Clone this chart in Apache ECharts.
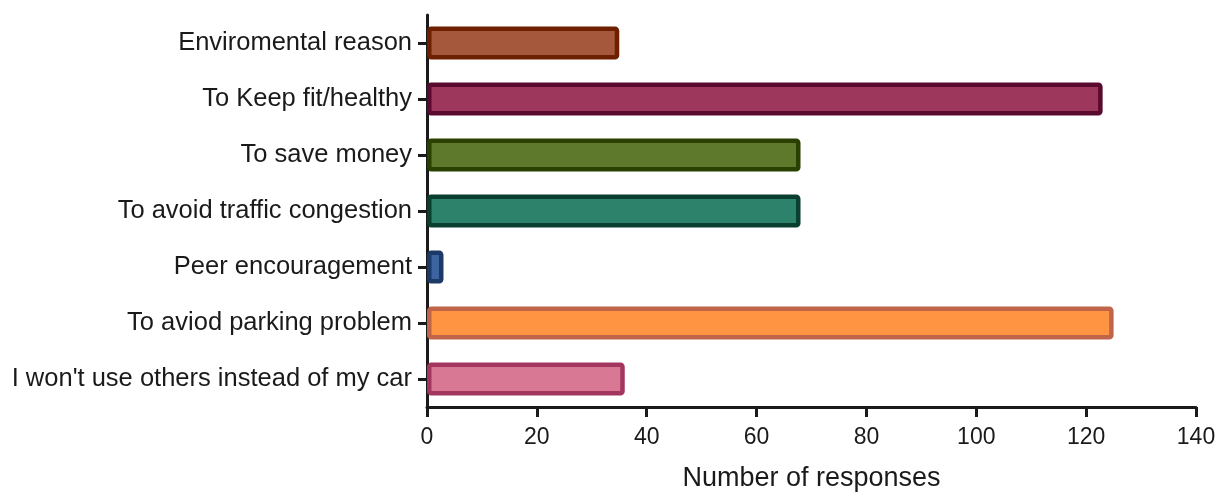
<!DOCTYPE html>
<html><head><meta charset="utf-8">
<script src="https://cdn.jsdelivr.net/npm/echarts@6/dist/echarts.min.js"></script>
<style>html,body{margin:0;padding:0;background:#fff}#c{width:1232px;height:492px}</style>
</head><body><div id="c"></div>
<script>
const categories = ["Enviromental reason","To Keep fit/healthy","To save money","To avoid traffic congestion","Peer encouragement","To aviod parking problem","I won't use others instead of my car"];
const responses = [35, 123, 68, 68, 3, 125, 36];
const xTicks = [0, 20, 40, 60, 80, 100, 120, 140];
const fillColors = ["#A6583C","#9D375B","#5E792C","#2C826A","#3D63A0","#FF9442","#D97894"];
const borderColors = ["#6E1F00","#5A0A2E","#2A4000","#0A3F30","#1D3A66","#C0654A","#A3365E"];

const chart = echarts.init(document.getElementById('c'), null, {renderer:'canvas'});
const font = "'Liberation Sans', Arial, sans-serif";
chart.setOption({
  animation: false,
  grid: {left: 427, right: 36, top: 15, bottom: 85, containLabel: false, outerBoundsMode: 'none'},
  xAxis: {
    type: 'value', min: xTicks[0], max: xTicks[xTicks.length-1], interval: 20,
    name: 'Number of responses', nameLocation: 'middle', nameGap: 58,
    nameTextStyle: {fontFamily: font, fontSize: 27, color: '#1a1a1a'},
    axisLine: {show: true, lineStyle: {color: '#1a1a1a', width: 3}},
    axisTick: {show: true, length: 10, lineStyle: {color: '#1a1a1a', width: 3}},
    axisLabel: {fontFamily: font, fontSize: 23, color: '#1a1a1a', margin: 19},
    splitLine: {show: false}
  },
  yAxis: {
    type: 'category', data: categories, inverse: true,
    axisLine: {show: true, lineStyle: {color: '#1a1a1a', width: 3}},
    axisTick: {show: true, alignWithLabel: true, length: 9, lineStyle: {color: '#1a1a1a', width: 3}},
    axisLabel: {fontFamily: font, fontSize: 25.5, color: '#1a1a1a', margin: 15}
  },
  series: [{
    type: 'bar', barWidth: 33,
    data: responses.map((v, i) => ({value: v, itemStyle: {color: fillColors[i], borderColor: borderColors[i], borderWidth: 4.5, borderRadius: 2}}))
  }]
});
</script></body></html>
